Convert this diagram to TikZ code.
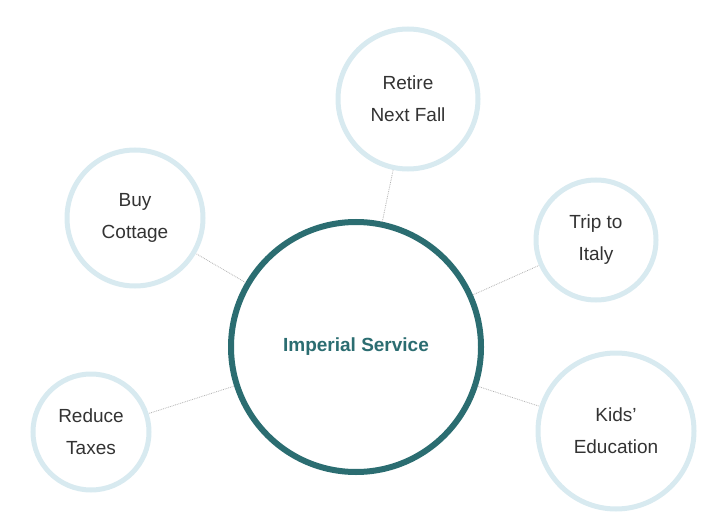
\documentclass[tikz,border=0pt]{standalone}
\usepackage{fontspec}
\setmainfont{Liberation Sans}
\begin{document}
\begin{tikzpicture}[x=1pt,y=1pt,
  outer/.style={circle,draw=lightc,line width=5pt,fill=white,align=center,font=\fontsize{19}{32}\selectfont,text=black!80},
  conn/.style={draw=black!30,densely dotted,line width=0.8pt}]
\definecolor{lightc}{HTML}{D8EAF0}
\definecolor{tealc}{HTML}{2B6D71}
\useasboundingbox (0,0) rectangle (720,523);
\node[circle,draw=tealc,line width=6pt,minimum size=250pt,fill=white,text=tealc,font=\bfseries\fontsize{19}{24}\selectfont] (c) at (356,176) {Imperial Service};
\node[outer,minimum size=140pt] (r) at (408,424) {Retire\\Next Fall};
\node[outer,minimum size=136pt] (b) at (135,305) {Buy\\Cottage};
\node[outer,minimum size=120pt] (t) at (596,283) {Trip to\\Italy};
\node[outer,minimum size=116pt] (x) at (91,91) {Reduce\\Taxes};
\node[outer,minimum size=156pt] (k) at (616,92) {Kids'\\Education};
\path[conn] (c) -- (r);
\path[conn] (c) -- (b);
\path[conn] (c) -- (t);
\path[conn] (c) -- (x);
\path[conn] (c) -- (k);
\end{tikzpicture}
\end{document}
